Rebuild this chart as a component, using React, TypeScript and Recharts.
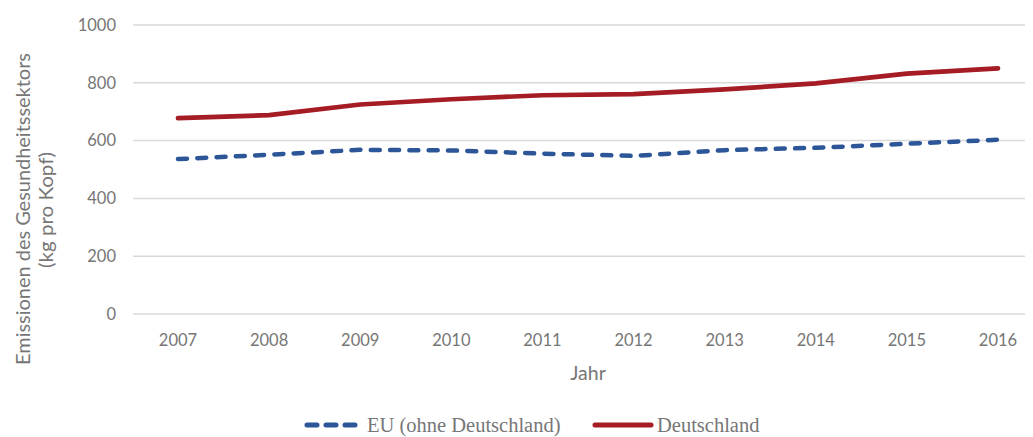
import React from 'react';
import { CartesianGrid, Legend, Line, LineChart, XAxis, YAxis } from 'recharts';

const YEARS = ['2007', '2008', '2009', '2010', '2011', '2012', '2013', '2014', '2015', '2016'];
const EU_VALUES = [536, 551, 568, 566, 555, 547, 567, 575, 589, 603];
const DE_VALUES = [678, 688, 725, 743, 757, 761, 777, 798, 832, 850];
const Y_TICKS = [0, 200, 400, 600, 800, 1000];

const DATA = YEARS.map((year, i) => ({ year, eu: EU_VALUES[i], de: DE_VALUES[i] }));

const AXIS_FONT = 'Lato, "Open Sans", sans-serif';
const TEXT_GRAY = '#767676';
const BLUE = '#2c5697';
const RED = '#a51c24';

function YTitle() {
  return (
    <g fill={TEXT_GRAY} fontFamily={AXIS_FONT} fontSize={18.5}>
      <text
        x={23}
        y={209}
        transform="rotate(-90 23 209)"
        textAnchor="middle"
        dominantBaseline="central"
        textLength={312}
        lengthAdjust="spacingAndGlyphs"
      >
        Emissionen des Gesundheitssektors
      </text>
      <text
        x={46}
        y={210}
        transform="rotate(-90 46 210)"
        textAnchor="middle"
        dominantBaseline="central"
        textLength={116}
        lengthAdjust="spacingAndGlyphs"
      >
        (kg pro Kopf)
      </text>
    </g>
  );
}

function XTitle(props: any) {
  const vb = props.viewBox || {};
  return (
    <text
      x={vb.x + vb.width / 2}
      y={372}
      textAnchor="middle"
      dominantBaseline="central"
      fill={TEXT_GRAY}
      fontFamily={AXIS_FONT}
      fontSize={19.5}
    >
      Jahr
    </text>
  );
}

function LegendBox() {
  const textStyle: React.CSSProperties = {
    fontFamily: '"Liberation Serif", "Times New Roman", serif',
    fontSize: 20.5,
    color: TEXT_GRAY,
    lineHeight: '18px',
  };
  return (
    <div style={{ position: 'relative', height: 18 }}>
      <svg width={60} height={18} style={{ position: 'absolute', left: 304, top: 0 }}>
        <line x1={3} y1={9} x2={51} y2={9} stroke={BLUE} strokeWidth={5} strokeLinecap="round" strokeDasharray="10 9" />
      </svg>
      <span style={{ ...textStyle, position: 'absolute', left: 367, top: 0, whiteSpace: 'nowrap' }}>
        EU (ohne Deutschland)
      </span>
      <svg width={64} height={18} style={{ position: 'absolute', left: 592, top: 0 }}>
        <line x1={3} y1={9} x2={59} y2={9} stroke={RED} strokeWidth={5} strokeLinecap="round" />
      </svg>
      <span style={{ ...textStyle, position: 'absolute', left: 657, top: 0, whiteSpace: 'nowrap' }}>
        Deutschland
      </span>
    </div>
  );
}

export default function App() {
  return (
    <div style={{ margin: '-8px 0 0 -8px', width: 1033, height: 437, overflow: 'hidden', background: '#fff' }}>
      <LineChart width={1043} height={437} data={DATA} margin={{ top: 25, right: 0, bottom: 35, left: 0 }}>
        <CartesianGrid horizontal vertical={false} stroke="#d9d9d9" strokeWidth={1.5} />
        <XAxis
          dataKey="year"
          height={70}
          axisLine={false}
          tickLine={false}
          tickSize={8}
          tickMargin={12}
          tick={{ fill: TEXT_GRAY, fontFamily: AXIS_FONT, fontSize: 16.5 }}
          label={<XTitle />}
          padding={{ left: 45, right: 45 }}
        />
        <YAxis
          width={133}
          domain={[0, 1000]}
          ticks={Y_TICKS}
          axisLine={false}
          tickLine={false}
          tickSize={6}
          tickMargin={11}
          tick={{ fill: TEXT_GRAY, fontFamily: AXIS_FONT, fontSize: 16.5 }}
          label={<YTitle />}
        />
        <Legend verticalAlign="bottom" wrapperStyle={{ bottom: 3, left: 0, width: 1043 }} content={<LegendBox />} />
        <Line
          dataKey="eu"
          name="EU (ohne Deutschland)"
          stroke={BLUE}
          strokeWidth={4.5}
          strokeLinecap="round"
          strokeDasharray="9 10.3"
          dot={false}
          type="linear"
          isAnimationActive={false}
        />
        <Line
          dataKey="de"
          name="Deutschland"
          stroke={RED}
          strokeWidth={4.7}
          strokeLinecap="round"
          dot={false}
          type="linear"
          isAnimationActive={false}
        />
      </LineChart>
    </div>
  );
}
